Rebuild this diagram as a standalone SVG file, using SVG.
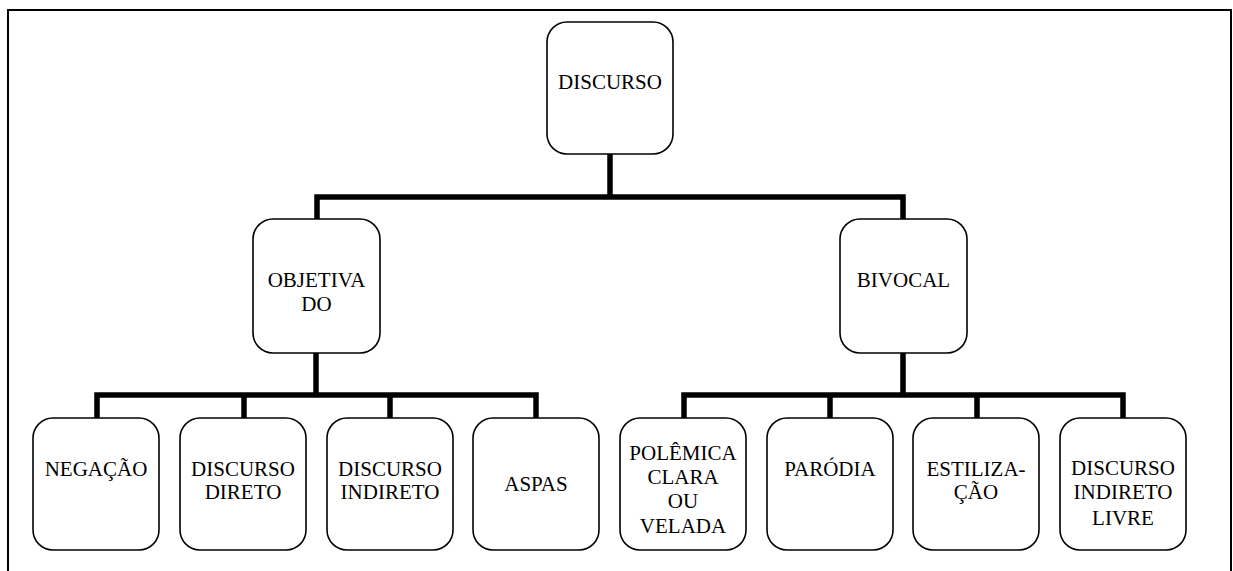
<svg xmlns="http://www.w3.org/2000/svg" width="1233" height="571" viewBox="0 0 1233 571" font-family="Liberation Serif, DejaVu Serif, serif">
<style>
.box{fill:#fff;stroke:#000;stroke-width:1.6}
.lbl{font-size:21px;fill:#000;text-anchor:middle}
.con{fill:none;stroke:#000;stroke-width:5.5;stroke-linejoin:miter}
.frame{fill:none;stroke:#000;stroke-width:2}
</style>
<rect width="1233" height="571" fill="#fff"/>
<path class="frame" d="M8,571 V10 H1231 V571"/>
<g id="connectors">
<path class="con" d="M610,154 V197"/>
<path class="con" d="M317,219 V197 H903 V219"/>
<path class="con" d="M316,353 V395"/>
<path class="con" d="M97,418 V395 H536 V418"/>
<path class="con" d="M244,395 V418 M390,395 V418"/>
<path class="con" d="M903,353 V395"/>
<path class="con" d="M684,418 V395 H1123 V418"/>
<path class="con" d="M830,395 V418 M977,395 V418"/>
</g>
<g id="discurso">
<rect class="box" x="547" y="22" width="126" height="132" rx="20"/>
<text class="lbl" x="610" y="89" font-family="Liberation Serif">DISCURSO</text>
</g>
<g id="objetivado">
<rect class="box" x="253" y="219" width="127" height="134" rx="20"/>
<text class="lbl" x="316.5" y="287" font-family="Liberation Serif">OBJETIVA</text>
<text class="lbl" x="316.5" y="311" font-family="Liberation Serif">DO</text>
</g>
<g id="bivocal">
<rect class="box" x="840" y="219" width="127" height="134" rx="20"/>
<text class="lbl" x="903.5" y="287" font-family="Liberation Serif">BIVOCAL</text>
</g>
<g id="negacao">
<rect class="box" x="33" y="418" width="126" height="132" rx="20"/>
<text class="lbl" x="96" y="476" font-family="Liberation Serif">NEGAÇÃO</text>
</g>
<g id="discurso-direto">
<rect class="box" x="180" y="418" width="126" height="132" rx="20"/>
<text class="lbl" x="243" y="476" font-family="Liberation Serif">DISCURSO</text>
<text class="lbl" x="243" y="499" font-family="Liberation Serif">DIRETO</text>
</g>
<g id="discurso-indireto">
<rect class="box" x="327" y="418" width="126" height="132" rx="20"/>
<text class="lbl" x="390" y="476" font-family="Liberation Serif">DISCURSO</text>
<text class="lbl" x="390" y="499" font-family="Liberation Serif">INDIRETO</text>
</g>
<g id="aspas">
<rect class="box" x="473" y="418" width="126" height="132" rx="20"/>
<text class="lbl" x="536" y="491" font-family="Liberation Serif">ASPAS</text>
</g>
<g id="polemica">
<rect class="box" x="620" y="418" width="126" height="132" rx="20"/>
<text class="lbl" x="683" y="460" font-family="Liberation Serif">POLÊMICA</text>
<text class="lbl" x="683" y="484" font-family="Liberation Serif">CLARA</text>
<text class="lbl" x="683" y="508" font-family="Liberation Serif">OU</text>
<text class="lbl" x="683" y="533" font-family="Liberation Serif">VELADA</text>
</g>
<g id="parodia">
<rect class="box" x="767" y="418" width="126" height="132" rx="20"/>
<text class="lbl" x="830" y="476" font-family="Liberation Serif">PARÓDIA</text>
</g>
<g id="estilizacao">
<rect class="box" x="913" y="418" width="126" height="132" rx="20"/>
<text class="lbl" x="976" y="476" font-family="Liberation Serif">ESTILIZA-</text>
<text class="lbl" x="976" y="499" font-family="Liberation Serif">ÇÃO</text>
</g>
<g id="discurso-indireto-livre">
<rect class="box" x="1060" y="418" width="126" height="132" rx="20"/>
<text class="lbl" x="1123" y="475" font-family="Liberation Serif">DISCURSO</text>
<text class="lbl" x="1123" y="499" font-family="Liberation Serif">INDIRETO</text>
<text class="lbl" x="1123" y="525" font-family="Liberation Serif">LIVRE</text>
</g>
</svg>
